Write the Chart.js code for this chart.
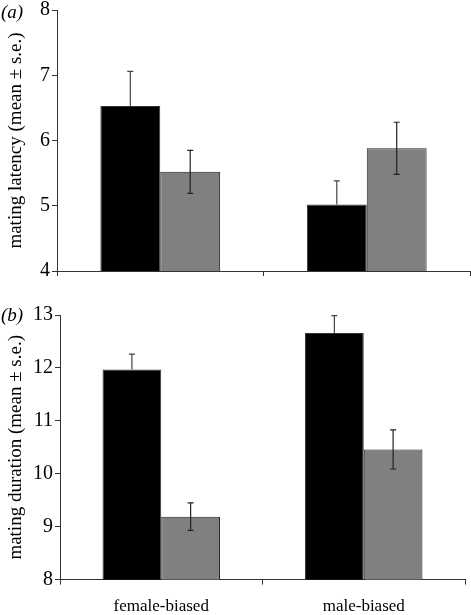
<!DOCTYPE html>
<html>
<head>
<meta charset="utf-8">
<script src="https://cdn.jsdelivr.net/npm/chart.js@4.4.0/dist/chart.umd.min.js"></script>
<style>
  body { margin: 0; background: #fff; width: 471px; height: 615px; position: relative; overflow: hidden; }
  .panel { position: absolute; left: 0; }
  #wrapA { top: -4px; }
  #wrapB { top: 295px; }
  .tag { position: absolute; left: 1px; font-family: 'Liberation Serif', serif; font-style: italic; font-size: 19px; color: #000; }
</style>
</head>
<body>
<div class="panel" id="wrapA"><canvas id="latency" width="471" height="290"></canvas></div>
<div class="panel" id="wrapB"><canvas id="duration" width="471" height="334"></canvas></div>
<div class="tag" style="top:1px">(a)</div>
<div class="tag" style="top:304px">(b)</div>
<script>
// groups on the x axis
const groups = ['female-biased', 'male-biased'];

// (a) mating latency, mean and s.e.
const latencyBlack = [6.53, 5.02];
const latencyBlackSE = [0.53, 0.36];
const latencyGrey = [5.52, 5.88];
const latencyGreySE = [0.33, 0.40];

// (b) mating duration, mean and s.e.
const durationBlack = [11.97, 12.66];
const durationBlackSE = [0.29, 0.33];
const durationGrey = [9.19, 10.46];
const durationGreySE = [0.26, 0.37];

const latencyTicks = [4, 5, 6, 7, 8];
const durationTicks = [8, 9, 10, 11, 12, 13];

const serif = "'Liberation Serif', 'Times New Roman', serif";

// draws the s.e. whiskers on top of each bar
const errorBars = {
    id: 'errorBars',
    afterDatasetsDraw(chart) {
        const ctx = chart.ctx;
        const yScale = chart.scales.y;
        chart.data.datasets.forEach((ds, i) => {
            const meta = chart.getDatasetMeta(i);
            meta.data.forEach((bar, j) => {
                const v = ds.data[j], se = ds.se[j];
                const top = yScale.getPixelForValue(v + se);
                const bot = yScale.getPixelForValue(v - se);
                ctx.save();
                ctx.strokeStyle = ds.whisker;
                ctx.lineWidth = 1.2;
                ctx.beginPath();
                ctx.moveTo(bar.x, top);
                ctx.lineTo(bar.x, ds.upperOnly ? bar.y : bot);
                ctx.moveTo(bar.x - 3, top); ctx.lineTo(bar.x + 3, top);
                if (!ds.upperOnly) { ctx.moveTo(bar.x - 3, bot); ctx.lineTo(bar.x + 3, bot); }
                ctx.stroke();
                ctx.restore();
            });
        });
    }
};

function makePanel(id, black, blackSE, grey, greySE, ticks, title, showLabels, yWidth, pad) {
    new Chart(document.getElementById(id), {
        type: 'bar',
        data: {
            labels: groups,
            datasets: [
                { data: black, se: blackSE, upperOnly: true, whisker: '#444',
                  backgroundColor: '#000', borderColor: '#333', borderWidth: 1,
                  categoryPercentage: 0.58, barPercentage: 1.0 },
                { data: grey, se: greySE, upperOnly: false, whisker: '#222',
                  backgroundColor: '#808080', borderColor: '#222', borderWidth: 1,
                  categoryPercentage: 0.58, barPercentage: 1.0 }
            ]
        },
        options: {
            responsive: false,
            animation: false,
            layout: { padding: pad },
            plugins: { legend: { display: false }, tooltip: { enabled: false } },
            scales: {
                x: {
                    grid: { display: true, drawOnChartArea: false, drawTicks: true, tickLength: 5, offset: true, color: '#333' },
                    border: { color: '#333', width: 1 },
                    ticks: { display: showLabels, color: '#000', padding: 12, font: { family: serif, size: 17 } }
                },
                y: {
                    min: ticks[0],
                    max: ticks[ticks.length - 1],
                    afterBuildTicks(s) { s.ticks = ticks.map(v => ({ value: v })); },
                    afterFit(s) { s.width = yWidth; },
                    grid: { display: true, drawOnChartArea: false, drawTicks: true, tickLength: 5, color: '#333' },
                    border: { color: '#333', width: 1 },
                    ticks: { color: '#000', padding: 2, font: { family: serif, size: 20 } },
                    title: { display: true, text: title, color: '#000', padding: { top: 5, bottom: 0 }, font: { family: serif, size: 19 } }
                }
            }
        },
        plugins: [errorBars]
    });
}

makePanel('latency', latencyBlack, latencyBlackSE, latencyGrey, latencyGreySE, latencyTicks,
    'mating latency (mean ± s.e.)', false, 57, { top: 6, right: 1, left: 0, bottom: 10 });
makePanel('duration', durationBlack, durationBlackSE, durationGrey, durationGreySE, durationTicks,
    'mating duration (mean ± s.e.)', true, 60, { top: 20, right: 6, left: 0, bottom: 0 });
</script>
</body>
</html>
